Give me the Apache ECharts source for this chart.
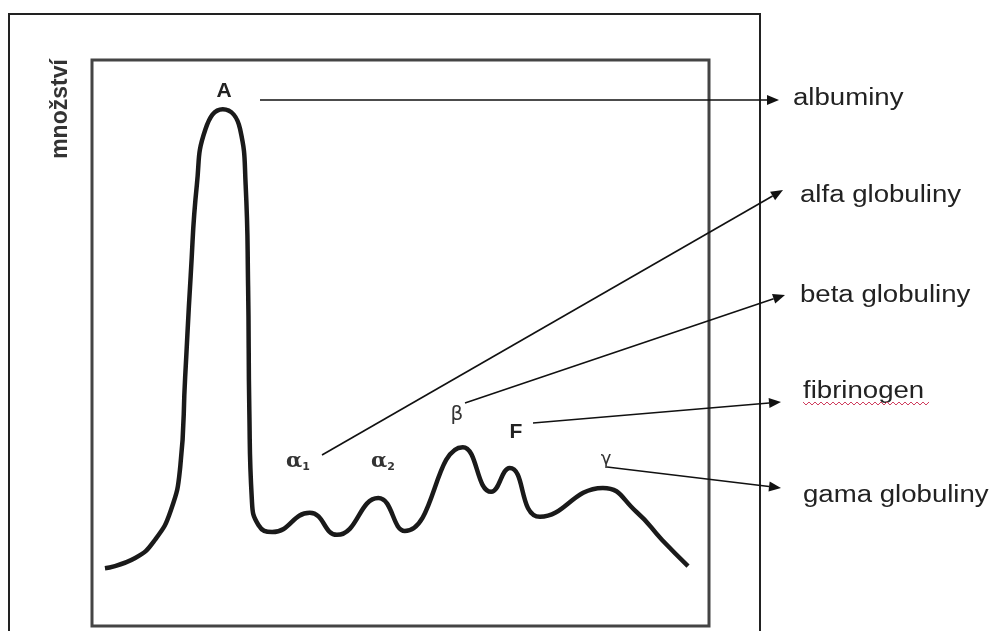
<!DOCTYPE html>
<html>
<head>
<meta charset="utf-8">
<script src="https://cdn.jsdelivr.net/npm/echarts@6/dist/echarts.min.js"></script>
<style>html,body{margin:0;padding:0;background:#fff;}#c{width:993px;height:631px;}</style>
</head>
<body>
<div id="c"></div>
<script>
// Electrophoresis curve: mobility (x, 0-100) vs amount (y, 0-100)
var mobility = [2.1, 7.0, 10.2, 12.8, 14.3, 15.1, 16.0, 17.0, 18.4, 21.2, 24.0, 24.9, 25.3, 25.5, 25.9, 27.0, 29.2, 35.3, 39.7, 46.4, 50.7, 60.1, 64.7, 67.7, 72.6, 82.8, 88.3, 92.4, 96.6];
var amount   = [10.2, 12.0, 15.2, 20.5, 28.1, 44.0, 62.0, 78.0, 87.8, 91.3, 87.8, 78.0, 60.0, 38.0, 22.5, 17.8, 16.6, 20.0, 16.1, 22.6, 16.8, 31.6, 23.7, 27.9, 19.3, 24.4, 20.1, 15.2, 10.6];
var fractionNames = ['albuminy', 'alfa globuliny', 'beta globuliny', 'fibrinogen', 'gama globuliny'];
var yAxisName = 'množství';

var curve = mobility.map(function (x, i) { return [x, amount[i]]; });

var chart = echarts.init(document.getElementById('c'));

function arrow(x1, y1, x2, y2) {
  var dx = x2 - x1, dy = y2 - y1, L = Math.sqrt(dx * dx + dy * dy);
  var ux = dx / L, uy = dy / L, len = 12, hw = 5;
  var bx = x2 - ux * len, by = y2 - uy * len;
  return [
    { type: 'line', shape: { x1: x1, y1: y1, x2: bx, y2: by }, style: { stroke: '#111', lineWidth: 1.6 } },
    { type: 'polygon', shape: { points: [[x2, y2], [bx - uy * hw, by + ux * hw], [bx + uy * hw, by - ux * hw]] }, style: { fill: '#111' } }
  ];
}

function rightLabel(txt, x, y) {
  return { type: 'text', x: x, y: y, scaleX: 1.2, style: { text: txt, fill: '#222', font: '23px "Liberation Sans", Arial, sans-serif', textAlign: 'left', textVerticalAlign: 'middle' } };
}

var wave = [];
for (var wx = 803; wx <= 930; wx += 3) { wave.push([wx, ((wx - 803) / 3) % 2 === 0 ? 402 : 405]); }

var greekRich = { a: { fontSize: 21, fontFamily: 'DejaVu Serif', fontWeight: 'bold', fill: '#333' }, s: { fontSize: 11, fontFamily: 'DejaVu Sans', fontWeight: 'bold', fill: '#333', verticalAlign: 'bottom', padding: [9, 0, 0, 0] } };

var elements = [
  { type: 'polyline', shape: { points: [[9, 640], [9, 14], [760, 14], [760, 640]] }, style: { stroke: '#222', lineWidth: 2, fill: null } },
  { type: 'text', x: 61, y: 109, rotation: Math.PI / 2, style: { text: yAxisName, fill: '#333', font: 'bold 23px "Liberation Sans", Arial, sans-serif', textAlign: 'center', textVerticalAlign: 'middle' } },
  { type: 'text', x: 224, y: 91, style: { text: 'A', fill: '#222', font: 'bold 21px "Liberation Sans", Arial, sans-serif', textAlign: 'center', textVerticalAlign: 'middle' } },
  { type: 'text', x: 516, y: 432, style: { text: 'F', fill: '#222', font: 'bold 21px "Liberation Sans", Arial, sans-serif', textAlign: 'center', textVerticalAlign: 'middle' } },
  { type: 'text', x: 298, y: 462, style: { text: '{a|α}{s|1}', textAlign: 'center', textVerticalAlign: 'middle', rich: greekRich } },
  { type: 'text', x: 383, y: 462, style: { text: '{a|α}{s|2}', textAlign: 'center', textVerticalAlign: 'middle', rich: greekRich } },
  { type: 'text', x: 457, y: 415, style: { text: 'β', fill: '#333', font: '20px "DejaVu Sans", sans-serif', textAlign: 'center', textVerticalAlign: 'middle' } },
  { type: 'text', x: 606, y: 459, style: { text: 'γ', fill: '#333', font: '18px "DejaVu Sans", sans-serif', textAlign: 'center', textVerticalAlign: 'middle' } },
  rightLabel(fractionNames[0], 793, 99),
  rightLabel(fractionNames[1], 800, 196),
  rightLabel(fractionNames[2], 800, 296),
  rightLabel(fractionNames[3], 803, 392),
  rightLabel(fractionNames[4], 803, 496),
  { type: 'polyline', shape: { points: wave }, style: { stroke: '#d04060', lineWidth: 1, fill: null } }
];
elements = elements
  .concat(arrow(260, 100, 779, 100))
  .concat(arrow(322, 455, 783, 190))
  .concat(arrow(465, 403, 785, 295))
  .concat(arrow(533, 423, 781, 402))
  .concat(arrow(607, 467, 781, 488));

chart.setOption({
  animation: false,
  backgroundColor: '#fff',
  grid: { left: 92, right: 284, top: 60, bottom: 5, show: true, borderColor: '#444', borderWidth: 3, backgroundColor: 'transparent' },
  xAxis: { type: 'value', min: 0, max: 100, show: false },
  yAxis: { type: 'value', min: 0, max: 100, show: false },
  series: [{
    type: 'line',
    data: curve,
    smooth: 0.5,
    showSymbol: false,
    lineStyle: { color: '#1a1a1a', width: 4.5 }
  }],
  graphic: { elements: elements }
});
</script>
</body>
</html>
